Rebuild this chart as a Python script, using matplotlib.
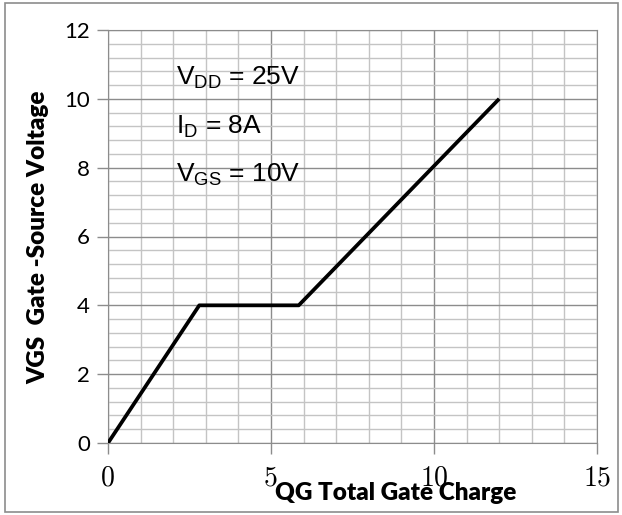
import matplotlib
matplotlib.use("Agg")
import matplotlib.pyplot as plt
from matplotlib.patches import Rectangle
from matplotlib.ticker import MultipleLocator

# gate charge curve
qg = [0, 2.8, 5.85, 12]
vgs = [0, 4, 4, 10]

x_ticks = [0, 5, 10, 15]
y_ticks = [0, 2, 4, 6, 8, 10, 12]

notes = [r"V$_{\mathrm{DD}}$ = 25V", r"I$_{\mathrm{D}}$ = 8A", r"V$_{\mathrm{GS}}$ = 10V"]
note_y = [10.6, 9.2, 7.8]

plt.rcParams["mathtext.fontset"] = "custom"
plt.rcParams["mathtext.rm"] = "Liberation Sans"

fig = plt.figure(figsize=(6.22, 5.15), dpi=100)
ax = fig.add_axes([108 / 622, 1 - 443 / 515, 489 / 622, 413 / 515])

ax.plot(qg, vgs, color="black", linewidth=2.7, solid_capstyle="butt", zorder=3)

ax.set_xlim(0, 15)
ax.set_ylim(0, 12)
ax.set_xticks(x_ticks)
ax.set_yticks(y_ticks)
ax.xaxis.set_minor_locator(MultipleLocator(1))
ax.yaxis.set_minor_locator(MultipleLocator(0.4))
ax.grid(which="major", color="#8c8c8c", linewidth=1.0)
ax.grid(which="minor", color="#c4c4c4", linewidth=1.0)
ax.set_axisbelow(True)
ax.tick_params(which="minor", length=0)
ax.tick_params(which="major", length=8, width=1.0, color="#8c8c8c", direction="out")
ax.tick_params(axis="x", pad=8)
ax.tick_params(axis="y", pad=5)
for spine in ax.spines.values():
    spine.set_color("#8c8c8c")

ax.set_xticklabels([str(t) for t in x_ticks], fontfamily="cmr10", fontsize=20)
ax.set_yticklabels([str(t) for t in y_ticks], fontfamily="Lato", fontsize=16)

for note, y in zip(notes, note_y):
    ax.text(2.1, y, note, fontsize=19, family="Liberation Sans",
            va="center", ha="left")

fig.text(396 / 622, 1 - 493 / 515, "QG Total Gate Charge", family="Lato",
         fontweight="heavy", fontsize=17.5, ha="center", va="center")
fig.text(38 / 622, 1 - 237 / 515, "VGS  Gate -Source Voltage", family="Lato",
         fontweight="heavy", fontsize=17.5, ha="center", va="center", rotation=90)

fig.patches.append(Rectangle((5 / 622, 3 / 515), 613 / 622, 509 / 515,
                             transform=fig.transFigure, fill=False,
                             edgecolor="#8c8c8c", linewidth=1.2))

fig.savefig("out.png", dpi=100)
